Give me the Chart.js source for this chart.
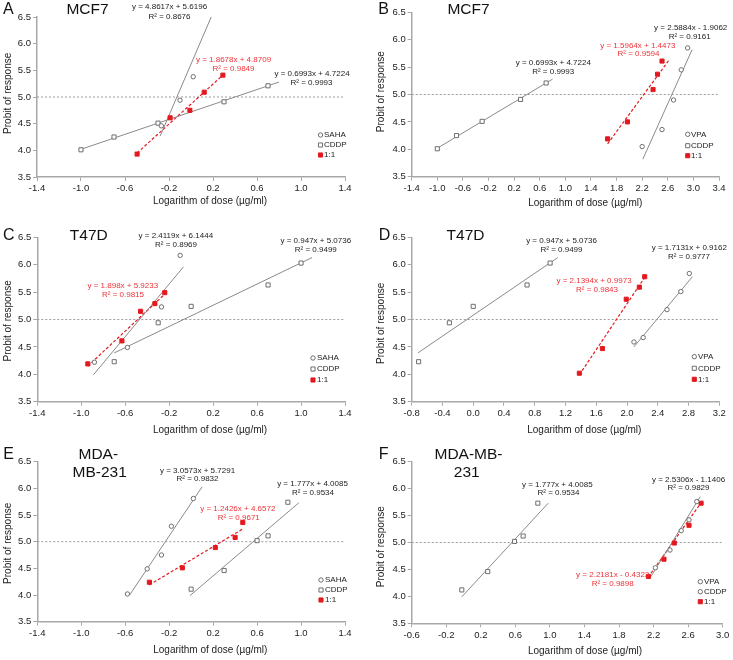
<!DOCTYPE html>
<html>
<head>
<meta charset="utf-8">
<title>Probit – dose response</title>
<script src="https://cdn.jsdelivr.net/npm/chart.js@4.4.1/dist/chart.umd.min.js"></script>
<style>
  html, body { margin: 0; padding: 0; background: #fff; }
  #wrap { position: relative; width: 733px; height: 660px; overflow: hidden; }
  #wrap canvas { position: absolute; }
</style>
</head>
<body>
<div id="wrap"></div>
<script>
'use strict';

/* ──────────────────────────────────────────
   Data
   ────────────────────────────────────────── */
const probitRef = 5.0;
const yTicksMin = 3.5, yTicksMax = 6.5, yStep = 0.5, xStep = 0.4;

// A · MCF7 – SAHA / CDDP / 1:1
const aSahaX = [-0.27, -0.10, 0.02, 0.12];
const aSahaY = [4.46, 4.94, 5.38, 6.55];
const aSahaFitX = [-0.28, 0.19];
const aSahaFitY = [4.27, 6.53];
const aCddpX = [-1.0, -0.70, -0.30, 0.30, 0.70];
const aCddpY = [4.01, 4.25, 4.51, 4.91, 5.21];
const aCddpFitX = [-1.0, 0.8];
const aCddpFitY = [4.02, 5.28];
const aMixX = [-0.49, -0.19, -0.01, 0.12, 0.29];
const aMixY = [3.93, 4.61, 4.75, 5.09, 5.41];
const aMixFitX = [-0.49, 0.29];
const aMixFitY = [3.95, 5.41];

// B · MCF7 – VPA / CDDP / 1:1
const bVpaX = [2.20, 2.51, 2.69, 2.81, 2.91];
const bVpaY = [4.05, 4.36, 4.90, 5.45, 5.85];
const bVpaFitX = [2.21, 2.98];
const bVpaFitY = [3.82, 5.82];
const bCddpX = [-1.0, -0.70, -0.30, 0.30, 0.70];
const bCddpY = [4.01, 4.25, 4.51, 4.91, 5.21];
const bCddpFitX = [-1.0, 0.8];
const bCddpFitY = [4.02, 5.28];
const bMixX = [1.66, 1.97, 2.37, 2.44, 2.51];
const bMixY = [4.19, 4.50, 5.09, 5.37, 5.61];
const bMixFitX = [1.66, 2.62];
const bMixFitY = [4.10, 5.63];

// C · T47D – SAHA / CDDP / 1:1
const cSahaX = [-0.88, -0.58, -0.27, -0.10];
const cSahaY = [4.22, 4.49, 5.23, 6.17];
const cSahaFitX = [-0.89, -0.07];
const cSahaFitY = [3.99, 5.96];
const cCddpX = [-0.70, -0.30, 0.0, 0.70, 1.0];
const cCddpY = [4.23, 4.94, 5.24, 5.63, 6.03];
const cCddpFitX = [-0.70, 1.10];
const cCddpFitY = [4.39, 6.13];
const cMixX = [-0.94, -0.63, -0.46, -0.33, -0.24];
const cMixY = [4.19, 4.61, 5.15, 5.29, 5.49];
const cMixFitX = [-0.94, -0.22];
const cMixFitY = [4.15, 5.50];

// D · T47D – VPA / CDDP / 1:1
const dVpaX = [2.09, 2.21, 2.52, 2.70, 2.81];
const dVpaY = [4.59, 4.67, 5.18, 5.51, 5.84];
const dVpaFitX = [2.09, 2.85];
const dVpaFitY = [4.50, 5.78];
const dCddpX = [-0.71, -0.31, 0.0, 0.70, 1.0];
const dCddpY = [4.23, 4.94, 5.24, 5.63, 6.03];
const dCddpFitX = [-0.72, 1.10];
const dCddpFitY = [4.39, 6.13];
const dMixX = [1.38, 1.68, 1.99, 2.16, 2.23];
const dMixY = [4.02, 4.47, 5.37, 5.59, 5.78];
const dMixFitX = [1.38, 2.24];
const dMixFitY = [3.99, 5.79];

// E · MDA-MB-231 – SAHA / CDDP / 1:1
const eSahaX = [-0.58, -0.40, -0.27, -0.18, 0.02];
const eSahaY = [4.02, 4.49, 4.75, 5.29, 5.81];
const eSahaFitX = [-0.56, 0.10];
const eSahaFitY = [4.00, 6.03];
const eCddpX = [0.0, 0.30, 0.60, 0.70, 0.88];
const eCddpY = [4.11, 4.46, 5.02, 5.11, 5.74];
const eCddpFitX = [-0.01, 0.98];
const eCddpFitY = [3.99, 5.73];
const eMixX = [-0.38, -0.08, 0.22, 0.40, 0.47];
const eMixY = [4.24, 4.51, 4.89, 5.08, 5.36];
const eMixFitX = [-0.38, 0.47];
const eMixFitY = [4.19, 5.24];

// F · MDA-MB-231 – VPA / CDDP / 1:1
const fVpaX = [2.22, 2.39, 2.52, 2.61, 2.70];
const fVpaY = [4.53, 4.86, 5.22, 5.42, 5.76];
const fVpaFitX = [2.17, 2.74];
const fVpaFitY = [4.37, 5.85];
const fCddpX = [-0.02, 0.28, 0.59, 0.69, 0.86];
const fCddpY = [4.12, 4.46, 5.02, 5.12, 5.73];
const fCddpFitX = [-0.02, 0.98];
const fCddpFitY = [3.99, 5.73];
const fMixX = [2.14, 2.32, 2.44, 2.61, 2.75];
const fMixY = [4.37, 4.69, 4.99, 5.32, 5.73];
const fMixFitX = [2.17, 2.76];
const fMixFitY = [4.43, 5.76];

/* ──────────────────────────────────────────
   Styles
   ────────────────────────────────────────── */
const FONT = '"Liberation Sans", Arial, Helvetica, sans-serif';
const INK = '#222';
const GREY_MK = '#6e6e6e';
const GREY_LINE = '#8a8a8a';
const AXIS = '#a8a8a8';
const RED = '#e3191f';
const RED_TXT = '#ee3338';

const MK = {
  circle: { style: 'circle', r: 2.2, bg: '#fff', border: GREY_MK },
  square: { style: 'rect',   r: 2.9, bg: '#fff', border: GREY_MK },
  red:    { style: 'rect',   r: 2.9, bg: RED,    border: RED }
};

Chart.defaults.font.family = FONT;
Chart.defaults.color = INK;

/* ──────────────────────────────────────────
   Panel layout (pixels, relative to each canvas)
   ────────────────────────────────────────── */
const XT = 'Logarithm of dose (µg/ml)';
const YT = 'Probit of response';

const panels = [
  {
    x: 0, y: 0, w: 366, h: 220, area: { l: 37, r: 345, t: 17, b: 177 },
    xMin: -1.4, xMax: 1.4,
    series: [
      { name: 'SAHA', mk: 'circle', x: aSahaX, y: aSahaY, fx: aSahaFitX, fy: aSahaFitY },
      { name: 'CDDP', mk: 'square', x: aCddpX, y: aCddpY, fx: aCddpFitX, fy: aCddpFitY },
      { name: '1:1',  mk: 'red',    x: aMixX,  y: aMixY,  fx: aMixFitX,  fy: aMixFitY }
    ],
    legend: { mx: 320.5, tx: 324, rows: [135, 145, 155] },
    axisT: { x: [210, 201.7], y: [8.3, 93.3] },
    heads: [['A', 3, 10, 'left', 16], ['MCF7', 87.5, 10, 'center', 15.5]],
    eqs: [
      ['y = 4.8617x + 5.6196', 169.5, 6.7, INK], ['R² = 0.8676', 169.5, 16.7, INK],
      ['y = 1.8678x + 4.8709', 233.5, 60, RED_TXT], ['R² = 0.9849', 233.5, 68.3, RED_TXT],
      ['y = 0.6993x + 4.7224', 312, 73.3, INK], ['R² = 0.9993', 311.5, 82.7, INK]
    ]
  },
  {
    x: 366, y: 0, w: 367, h: 220, area: { l: 45.7, r: 353, t: 12.3, b: 176.7 },
    xMin: -1.4, xMax: 3.4,
    series: [
      { name: 'VPA',  mk: 'circle', x: bVpaX,  y: bVpaY,  fx: bVpaFitX,  fy: bVpaFitY },
      { name: 'CDDP', mk: 'square', x: bCddpX, y: bCddpY, fx: bCddpFitX, fy: bCddpFitY },
      { name: '1:1',  mk: 'red',    x: bMixX,  y: bMixY,  fx: bMixFitX,  fy: bMixFitY }
    ],
    legend: { mx: 321.7, tx: 325, rows: [134.3, 145.7, 155.7] },
    axisT: { x: [219.2, 203.3], y: [15, 91.7] },
    heads: [['B', 12.3, 9.3, 'left', 16], ['MCF7', 102.5, 10, 'center', 15.5]],
    eqs: [
      ['y = 0.6993x + 4.7224', 187.3, 62.3, INK], ['R² = 0.9993', 187.2, 71.3, INK],
      ['y = 1.5964x + 1.4473', 271.8, 45.7, RED_TXT], ['R² = 0.9594', 272.5, 54, RED_TXT],
      ['y = 2.5884x - 1.9062', 324.7, 27.7, INK], ['R² = 0.9161', 323.7, 36.7, INK]
    ]
  },
  {
    x: 0, y: 220, w: 366, h: 220, area: { l: 37.3, r: 345, t: 17.3, b: 181.7 },
    xMin: -1.4, xMax: 1.4,
    series: [
      { name: 'SAHA', mk: 'circle', x: cSahaX, y: cSahaY, fx: cSahaFitX, fy: cSahaFitY },
      { name: 'CDDP', mk: 'square', x: cCddpX, y: cCddpY, fx: cCddpFitX, fy: cCddpFitY },
      { name: '1:1',  mk: 'red',    x: cMixX,  y: cMixY,  fx: cMixFitX,  fy: cMixFitY }
    ],
    legend: { mx: 313, tx: 317, rows: [138, 149, 160] },
    axisT: { x: [210, 210], y: [8.3, 100.8] },
    heads: [['C', 3, 15.7, 'left', 16], ['T47D', 88.8, 15.7, 'center', 15.5]],
    eqs: [
      ['y = 2.4119x + 6.1444', 175.8, 15.7, INK], ['R² = 0.8969', 176, 25, INK],
      ['y = 0.947x + 5.0736', 315.8, 20.7, INK], ['R² = 0.9499', 315.8, 29.3, INK],
      ['y = 1.898x + 5.9233', 122.8, 66, RED_TXT], ['R² = 0.9815', 123, 75, RED_TXT]
    ]
  },
  {
    x: 366, y: 220, w: 367, h: 220, area: { l: 45.7, r: 353.3, t: 17.3, b: 181.7 },
    xMin: -0.8, xMax: 3.2,
    series: [
      { name: 'VPA',  mk: 'circle', x: dVpaX,  y: dVpaY,  fx: dVpaFitX,  fy: dVpaFitY },
      { name: 'CDDP', mk: 'square', x: dCddpX, y: dCddpY, fx: dCddpFitX, fy: dCddpFitY },
      { name: '1:1',  mk: 'red',    x: dMixX,  y: dMixY,  fx: dMixFitX,  fy: dMixFitY }
    ],
    legend: { mx: 328.3, tx: 332, rows: [136.7, 148.3, 159.3] },
    axisT: { x: [218.3, 210], y: [15, 103.3] },
    heads: [['D', 12.7, 15.7, 'left', 16], ['T47D', 99.5, 15.7, 'center', 15.5]],
    eqs: [
      ['y = 0.947x + 5.0736', 195.5, 21, INK], ['R² = 0.9499', 195.5, 29.3, INK],
      ['y = 1.7131x + 0.9162', 323.3, 27.7, INK], ['R² = 0.9777', 323, 36.7, INK],
      ['y = 2.1394x + 0.9973', 228, 61, RED_TXT], ['R² = 0.9843', 231, 70, RED_TXT]
    ]
  },
  {
    x: 0, y: 440, w: 366, h: 220, area: { l: 37.3, r: 345, t: 21.7, b: 181.7 },
    xMin: -1.4, xMax: 1.4,
    series: [
      { name: 'SAHA', mk: 'circle', x: eSahaX, y: eSahaY, fx: eSahaFitX, fy: eSahaFitY },
      { name: 'CDDP', mk: 'square', x: eCddpX, y: eCddpY, fx: eCddpFitX, fy: eCddpFitY },
      { name: '1:1',  mk: 'red',    x: eMixX,  y: eMixY,  fx: eMixFitX,  fy: eMixFitY }
    ],
    legend: { mx: 321, tx: 325, rows: [140, 150, 160] },
    axisT: { x: [210.3, 210], y: [8.3, 103.3] },
    heads: [['E', 3.3, 15, 'left', 16], ['MDA-', 98.3, 15, 'center', 15.5], ['MB-231', 99.7, 32.3, 'center', 15.5]],
    eqs: [
      ['y = 3.0573x + 5.7291', 197.5, 30.7, INK], ['R² = 0.9832', 197.5, 39, INK],
      ['y = 1.777x + 4.0085', 312.5, 43.3, INK], ['R² = 0.9534', 313, 52.7, INK],
      ['y = 1.2426x + 4.6572', 237.8, 69, RED_TXT], ['R² = 0.9671', 238.8, 77.7, RED_TXT]
    ]
  },
  {
    x: 366, y: 440, w: 367, h: 220, area: { l: 45.7, r: 356.7, t: 21.7, b: 183.3 },
    xMin: -0.6, xMax: 3.0,
    series: [
      { name: 'VPA',  mk: 'circle', x: fVpaX,  y: fVpaY,  fx: fVpaFitX,  fy: fVpaFitY },
      { name: 'CDDP', mk: 'square', legendMk: 'circle', x: fCddpX, y: fCddpY, fx: fCddpFitX, fy: fCddpFitY },
      { name: '1:1',  mk: 'red',    x: fMixX,  y: fMixY,  fx: fMixFitX,  fy: fMixFitY }
    ],
    legend: { mx: 334.3, tx: 338, rows: [141.7, 151.7, 161.7] },
    axisT: { x: [219, 211], y: [15, 106.7] },
    heads: [['F', 12.7, 15, 'left', 16], ['MDA-MB-', 102.5, 15, 'center', 15.5], ['231', 100.8, 32.3, 'center', 15.5]],
    eqs: [
      ['y = 1.777x + 4.0085', 191.3, 44.3, INK], ['R² = 0.9534', 192.5, 52.7, INK],
      ['y = 2.5306x - 1.1406', 322.5, 39.3, INK], ['R² = 0.9829', 322.5, 47.7, INK],
      ['y = 2.2181x - 0.4323', 246.7, 134.3, RED_TXT], ['R² = 0.9898', 246.7, 143.3, RED_TXT]
    ]
  }
];

/* ──────────────────────────────────────────
   Helpers
   ────────────────────────────────────────── */
const pts = (xs, ys) => xs.map((x, i) => ({ x, y: ys[i] }));

function buildDatasets(p) {
  const ds = [{
    data: [{ x: p.xMin, y: probitRef }, { x: p.xMax, y: probitRef }],
    showLine: true, borderColor: '#9c9c9c', borderWidth: 1, borderDash: [2, 2],
    pointRadius: 0, order: 10
  }];
  p.series.forEach(s => {
    const m = MK[s.mk];
    const isRed = s.mk === 'red';
    ds.push({
      data: pts(s.fx, s.fy), showLine: true, pointRadius: 0,
      borderColor: isRed ? RED : GREY_LINE, borderWidth: isRed ? 1.2 : 1,
      borderDash: isRed ? [3, 2] : [], order: 5
    });
    ds.push({
      data: pts(s.x, s.y), showLine: false,
      pointStyle: m.style, pointRadius: m.r, pointHoverRadius: m.r,
      pointBackgroundColor: m.bg, pointBorderColor: m.border, pointBorderWidth: 1,
      order: 1
    });
  });
  return ds;
}

function drawMarker(ctx, kind, x, y) {
  const m = MK[kind];
  ctx.beginPath();
  if (m.style === 'circle') ctx.arc(x, y, m.r, 0, Math.PI * 2);
  else { const s = m.r * Math.SQRT1_2; ctx.rect(x - s, y - s, 2 * s, 2 * s); }
  ctx.fillStyle = m.bg; ctx.fill();
  ctx.lineWidth = 1; ctx.strokeStyle = m.border; ctx.stroke();
}

/* text layer: titles, equations, legend, axis titles */
function textPlugin(p) {
  return {
    id: 'panelText',
    afterDraw(chart) {
      const ctx = chart.ctx;
      ctx.save();
      ctx.textBaseline = 'middle';

      p.heads.forEach(([t, x, y, align, size]) => {
        ctx.font = `${size}px ${FONT}`; ctx.fillStyle = '#111'; ctx.textAlign = align;
        ctx.fillText(t, x, y);
      });

      ctx.font = `8px ${FONT}`; ctx.textAlign = 'center';
      p.eqs.forEach(([t, x, y, c]) => { ctx.fillStyle = c; ctx.fillText(t, x, y); });

      p.series.forEach((s, i) => {
        const y = p.legend.rows[i];
        drawMarker(ctx, s.legendMk || s.mk, p.legend.mx, y);
        ctx.font = `8px ${FONT}`; ctx.fillStyle = INK; ctx.textAlign = 'left';
        ctx.fillText(s.name, p.legend.tx, y);
      });

      ctx.font = `10px ${FONT}`; ctx.fillStyle = INK; ctx.textAlign = 'center';
      ctx.fillText(XT, p.axisT.x[0], p.axisT.x[1]);
      ctx.translate(p.axisT.y[0], p.axisT.y[1]);
      ctx.rotate(-Math.PI / 2);
      ctx.fillText(YT, 0, 0);
      ctx.restore();
    }
  };
}

/* ──────────────────────────────────────────
   Build the six panels
   ────────────────────────────────────────── */
const wrap = document.getElementById('wrap');

panels.forEach(p => {
  const cv = document.createElement('canvas');
  cv.width = p.w; cv.height = p.h;
  cv.style.left = p.x + 'px'; cv.style.top = p.y + 'px';
  cv.style.width = p.w + 'px'; cv.style.height = p.h + 'px';
  wrap.appendChild(cv);

  const tickFont = { size: 9.5, family: FONT };
  const axisGrid = { drawOnChartArea: false, drawTicks: true, tickLength: 4, color: AXIS, lineWidth: 1 };

  new Chart(cv, {
    type: 'scatter',
    data: { datasets: buildDatasets(p) },
    options: {
      responsive: false,
      animation: false,
      events: [],
      layout: { padding: { left: 0, top: p.area.t, right: p.w - p.area.r, bottom: 0 } },
      plugins: { legend: { display: false }, tooltip: { enabled: false } },
      scales: {
        x: {
          type: 'linear', min: p.xMin, max: p.xMax,
          border: { color: AXIS, width: 1.5 },
          grid: axisGrid,
          ticks: { stepSize: xStep, font: tickFont, color: INK, padding: 2,
                   maxRotation: 0, autoSkip: false, callback: v => v.toFixed(1) },
          afterFit: s => { s.height = p.h - p.area.b; }
        },
        y: {
          type: 'linear', min: yTicksMin, max: yTicksMax,
          border: { color: AXIS, width: 1.5 },
          grid: axisGrid,
          ticks: { stepSize: yStep, font: tickFont, color: INK, padding: 2,
                   callback: v => v.toFixed(1) },
          afterFit: s => { s.width = p.area.l; }
        }
      }
    },
    plugins: [textPlugin(p)]
  });
});
</script>
</body>
</html>
